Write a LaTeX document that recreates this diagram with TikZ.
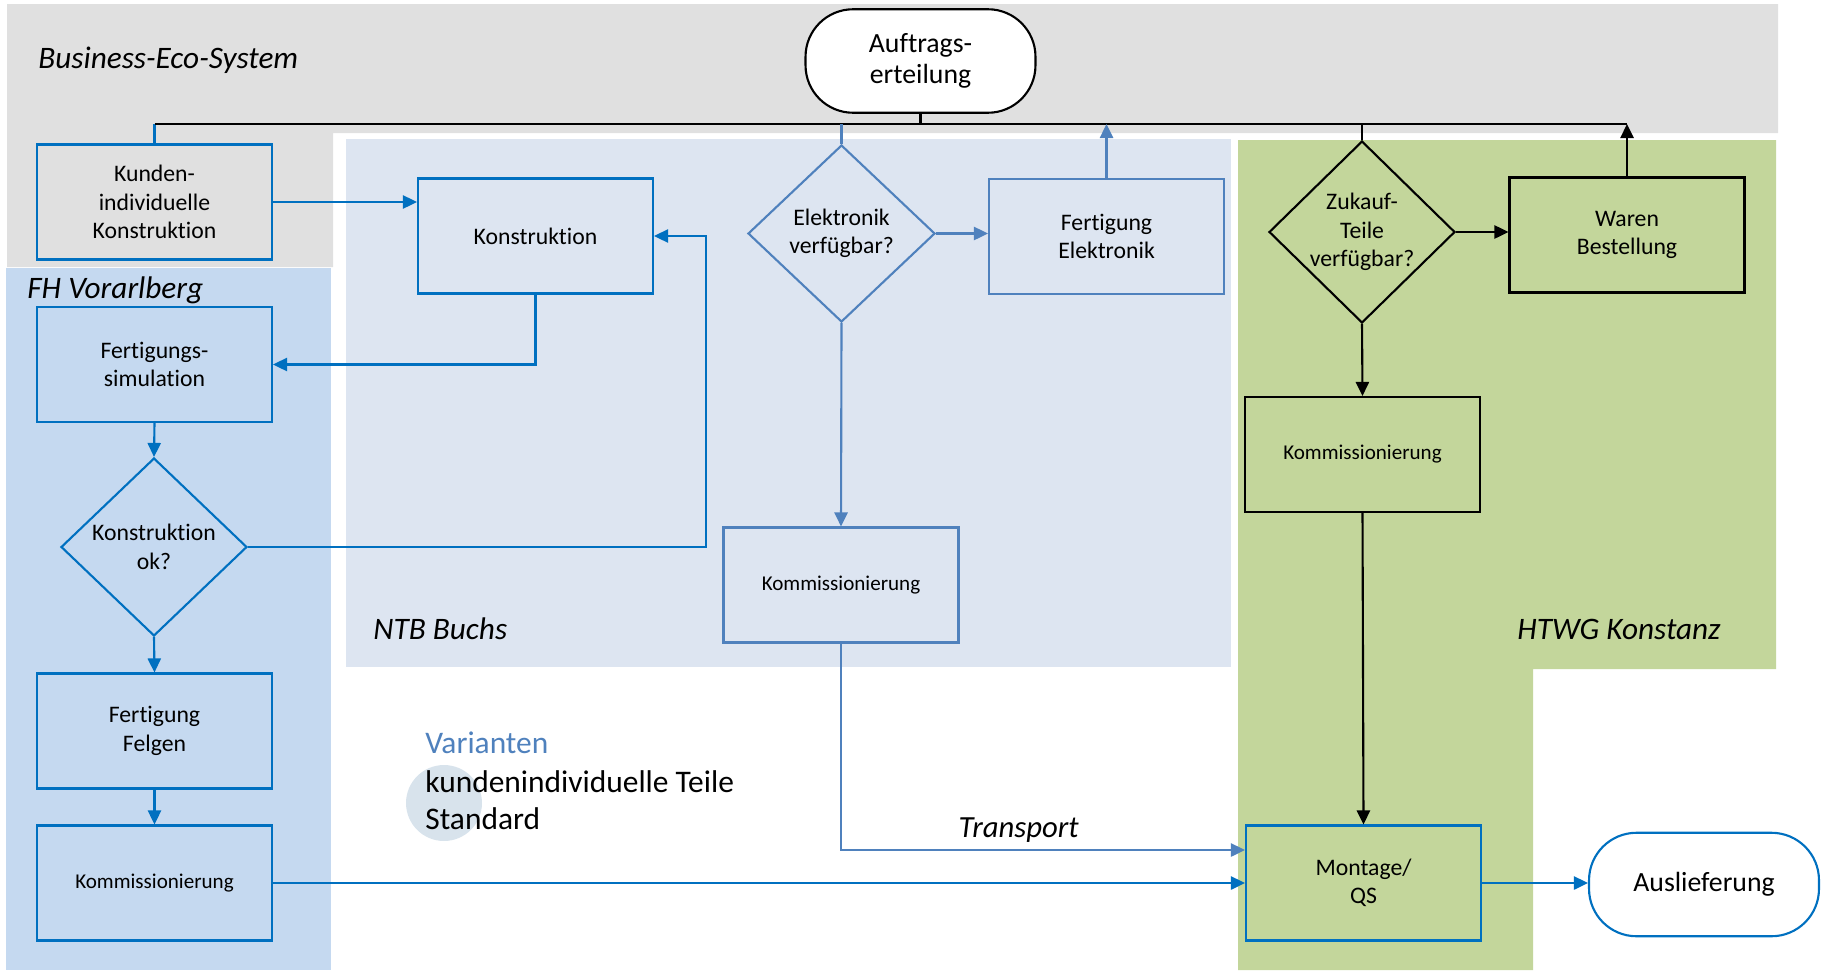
\documentclass[tikz,border=0pt]{standalone}
\usepackage{fontspec}
\setmainfont{Carlito}[Ligatures=NoCommon]
\usepackage{tikz}
\usetikzlibrary{shapes.geometric, arrows.meta, positioning, calc}
\definecolor{ecogray}{RGB}{224, 224, 224}
\definecolor{fhbg}{RGB}{197, 217, 240}
\definecolor{ntbbg}{RGB}{221, 229, 241}
\definecolor{htwgbg}{RGB}{195, 214, 155}
\definecolor{darkblue}{RGB}{0, 112, 192}
\definecolor{lightblue}{RGB}{79, 129, 189}
\definecolor{varcircle}{RGB}{216, 227, 236}

\begin{document}
\begin{tikzpicture}[x=0.02cm, y=-0.02cm,
  stp/.style={draw, rectangle, minimum width=4.7cm, minimum height=2.3cm, inner sep=0pt,
              align=center, line width=1.2pt, font=\fontsize{13.5}{16.2}\selectfont},
  kom/.style={stp, font=\fontsize{12}{14.4}\selectfont},
  dec/.style={draw, diamond, aspect=1, minimum width=3.72cm, minimum height=3.56cm, inner sep=0pt,
              align=center, line width=1.2pt, font=\fontsize{13.5}{16.2}\selectfont},
  term/.style={draw, rectangle, rounded corners=0.95cm, minimum width=4.6cm, minimum height=2.07cm,
               fill=white, align=center, line width=1.2pt, font=\fontsize{15.8}{18.8}\selectfont},
  area/.style={anchor=west, inner sep=0pt, font=\fontsize{17.8}{21.4}\selectfont\itshape},
  vartxt/.style={anchor=west, inner sep=0pt, font=\fontsize{17.9}{21.6}\selectfont},
  arr/.style={-{Triangle[length=8pt, width=7.5pt]}, line width=1.2pt},
  ln/.style={line width=1.2pt},
]
\useasboundingbox (0,0) rectangle (1824,970);

% Areas
\fill[ecogray] (7,4) -- (1778,4) -- (1778,133) -- (333,133) -- (333,267) -- (7,267) -- cycle;
\fill[fhbg] (6,268) rectangle (331,970);
\fill[ntbbg] (346,139) rectangle (1231,667);
\fill[htwgbg] (1238,140) -- (1776,140) -- (1776,669) -- (1533,669) -- (1533,970) -- (1238,970) -- cycle;
\fill[varcircle] (444,803) circle (0.76cm);

\node[area] (eco) at (38,60) {Business-Eco-System};
\node[area] (fh) at (27,290) {FH Vorarlberg};
\node[area] (ntb) at (373,629) {NTB Buchs};
\node[area] (htwg) at (1517,629) {HTWG Konstanz};

% Business-Eco-System
\node[term] (auftrag) at (920.5,61) {\raisebox{-3pt}{\shortstack{Auftrags-\\[1pt]erteilung}}};
\node[stp, draw=darkblue] (kunden) at (154.5,202) {Kunden-\\individuelle\\Konstruktion};

% FH Vorarlberg
\node[stp, draw=darkblue] (fsim) at (154.5,364.5) {Fertigungs-\\simulation};
\node[dec, draw=darkblue] (ok) at (154,547) {Konstruktion\\ok?};
\node[stp, draw=darkblue] (felgen) at (154.5,731) {Fertigung\\Felgen};
\node[kom, draw=darkblue] (kommfh) at (154.5,883) {Kommissionierung};

% NTB Buchs
\node[stp, draw=darkblue] (konst) at (535.5,236) {Konstruktion};
\node[dec, draw=lightblue, minimum width=3.74cm, minimum height=3.54cm] (elek) at (841.5,233.5) {Elektronik\\verfügbar?};
\node[stp, draw=lightblue] (fertelek) at (1106.5,236.5) {Fertigung\\Elektronik};
\node[kom, draw=lightblue] (kommntb) at (841,585) {Kommissionierung};

% HTWG Konstanz
\node[dec] (zukauf) at (1362,232) {Zukauf-\\Teile\\verfügbar?};
\node[stp] (waren) at (1627,235) {Waren\\Bestellung};
\node[kom] (kommht) at (1362.5,454.5) {Kommissionierung};
\node[stp, draw=darkblue] (montage) at (1363.5,883) {Montage/\\QS};
\node[term, draw=darkblue] (ausl) at (1704,884.5) {Auslieferung};

% Varianten
\node[vartxt, text=lightblue] (var1) at (425,743) {Varianten};
\node[vartxt] (var2) at (425,782) {kundenindividuelle Teile};
\node[vartxt] (var3) at (425,819) {Standard};

% Order line
\coordinate (bus) at (0,124);
\coordinate (fb) at (706,0);
\coordinate (tr) at (0,850);
\draw[ln, darkblue] (kunden.north) -- (kunden.north |- bus);
\draw[ln] (kunden.north |- bus) -- (waren.north |- bus);
\draw[ln] (auftrag.south) -- (auftrag.south |- bus);
\draw[ln, lightblue] (elek.north) -- (elek.north |- bus);
\draw[arr, lightblue] (fertelek.north) -- (fertelek.north |- bus);
\draw[ln] (zukauf.north) -- (zukauf.north |- bus);
\draw[arr] (waren.north) -- (waren.north |- bus);

% FH flow
\draw[arr, darkblue] (kunden.east) -- (kunden.east -| konst.west);
\draw[arr, darkblue] (konst.south) |- (fsim.east);
\draw[arr, darkblue] (fsim.south) -- (ok.north);
\draw[arr, darkblue] (ok.east) -- (ok.east -| fb) -- (konst.east -| fb) -- (konst.east);
\draw[arr, darkblue] (ok.south) -- (felgen.north);
\draw[arr, darkblue] (felgen.south) -- (kommfh.north);
\draw[arr, darkblue] (kommfh.east) -- (kommfh.east -| montage.west);

% NTB flow
\draw[arr, lightblue] (elek.east) -- (elek.east -| fertelek.west);
\draw[arr, lightblue] (elek.south) -- (kommntb.north);
\draw[arr, lightblue] (kommntb.south) |- (montage.west |- tr)
     node[pos=0.72, above=3.5pt, inner sep=0pt, text=black, font=\fontsize{17.5}{21}\selectfont\itshape] {Transport};

% HTWG flow
\draw[arr] (zukauf.east) -- (zukauf.east -| waren.west);
\draw[arr] (zukauf.south) -- (kommht.north);
\draw[arr] (kommht.south) -- (montage.north);
\draw[arr, darkblue] (montage.east) -- (montage.east -| ausl.west);
\end{tikzpicture}
\end{document}
